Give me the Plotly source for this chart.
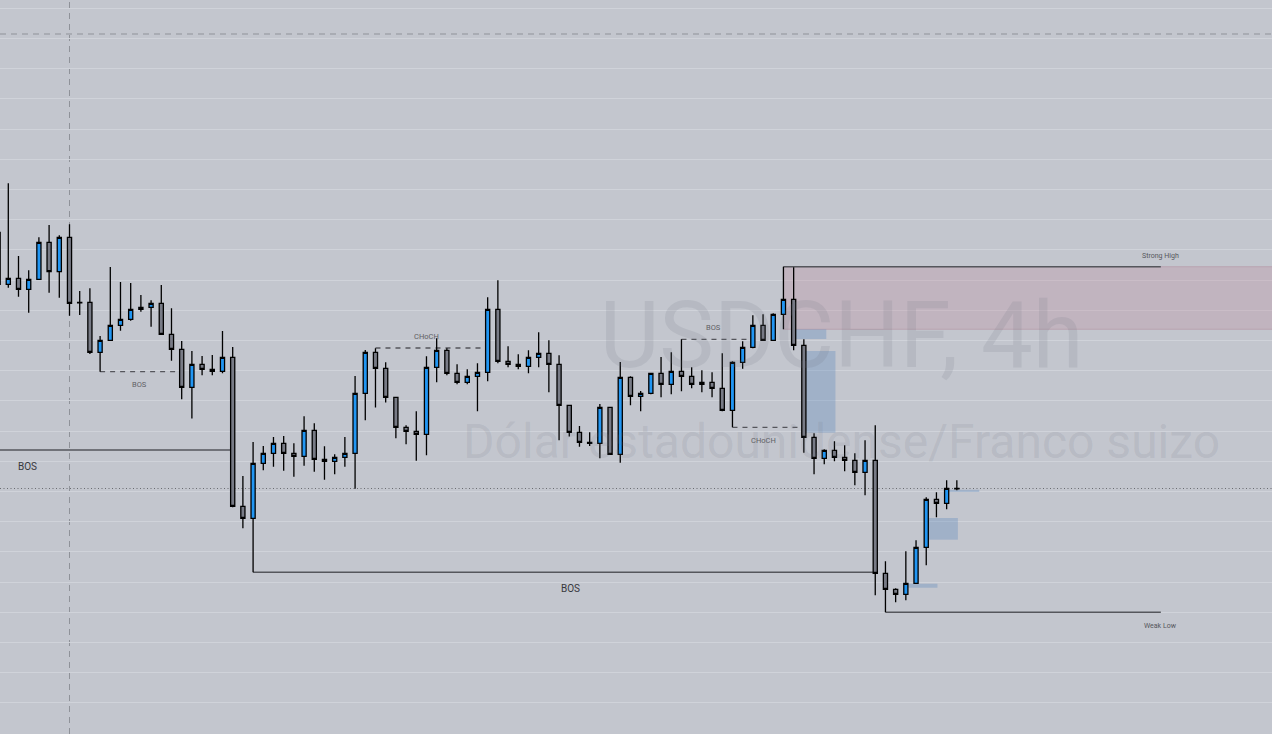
import plotly.graph_objects as go

# ---------------- data (price in chart points, bar index on x) ----------------
bar_index = list(range(-1, 94))

open_ = [501.7, 449.7, 455.7, 444.7, 454.7, 491.7, 462.3, 496.7, 431.7, 431.7,
         381.7, 393.7, 408.7, 414.7, 424.7, 426.7, 430.7, 399.7, 384.7, 346.7,
         369.7, 364.7, 362.7, 376.7, 227.7, 215.7, 270.7, 280.7, 290.7, 280.7,
         277.7, 303.7, 274.7, 272.7, 276.7, 280.7, 340.7, 381.7, 365.7, 336.7,
         306.7, 302.7, 299.7, 366.7, 383.7, 360.7, 351.7, 357.7, 361.7, 424.7,
         372.7, 369.7, 367.7, 376.7, 380.7, 369.7, 328.7, 301.7, 291.7, 290.7,
         326.7, 279.7, 356.7, 337.7, 340.7, 360.7, 349.7, 362.7, 357.7, 349.7,
         351.7, 345.7, 323.7, 371.7, 386.7, 408.7, 393.7, 419.7, 434.7, 388.7,
         296.7, 275.7, 283.7, 276.7, 273.7, 261.7, 273.7, 160.7, 144.7, 139.7,
         150.7, 186.7, 234.7, 230.7, 245.2]
high = [506.0, 550.7, 478.0, 463.7, 496.7, 509.0, 498.7, 509.7, 443.0, 445.7,
        398.0, 467.0, 452.0, 451.0, 439.0, 433.7, 449.0, 425.7, 393.0, 383.0,
        378.0, 379.0, 403.0, 387.0, 258.0, 292.0, 288.0, 297.0, 298.0, 290.7,
        317.7, 310.7, 287.7, 279.7, 297.0, 358.0, 384.0, 385.7, 371.7, 336.7,
        308.7, 322.7, 377.7, 395.7, 385.7, 369.7, 364.7, 370.7, 436.7, 453.7,
        387.7, 379.7, 383.7, 401.7, 393.7, 378.7, 328.7, 308.0, 301.7, 330.0,
        326.7, 372.0, 357.7, 343.0, 360.7, 377.0, 381.7, 394.7, 366.7, 363.7,
        361.7, 380.7, 372.7, 392.7, 418.7, 419.7, 420.7, 467.3, 466.7, 394.7,
        300.7, 284.7, 292.7, 288.7, 280.7, 293.7, 308.7, 172.7, 145.7, 182.7,
        193.7, 236.7, 241.7, 253.7, 253.7]
low = [442.0, 446.3, 437.3, 421.3, 454.7, 441.3, 436.3, 418.3, 419.0, 380.0,
       362.3, 393.7, 403.3, 413.3, 422.3, 407.3, 399.7, 373.3, 334.7, 315.5,
       358.7, 358.7, 360.7, 226.7, 205.7, 161.7, 263.7, 267.3, 263.3, 257.3,
       268.3, 262.3, 254.3, 259.7, 267.3, 245.3, 313.7, 326.5, 331.5, 295.7,
       289.7, 273.3, 278.7, 351.7, 358.7, 349.7, 349.7, 322.7, 352.7, 370.7,
       366.7, 364.7, 360.7, 366.7, 341.7, 293.7, 297.5, 287.3, 288.0, 275.7,
       279.7, 271.3, 328.7, 322.7, 339.7, 336.7, 339.7, 342.7, 345.7, 341.7,
       336.7, 322.7, 306.7, 365.3, 385.7, 393.7, 393.7, 404.7, 383.7, 281.3,
       259.7, 269.7, 272.7, 262.7, 248.7, 238.7, 138.7, 121.7, 131.7, 133.7,
       150.7, 168.7, 216.7, 224.7, 243.7]
close = [449.7, 455.7, 444.7, 454.7, 491.7, 462.3, 496.7, 430.7, 431.1, 381.7,
         393.7, 408.7, 414.7, 424.7, 426.7, 430.7, 399.7, 384.7, 346.7, 369.7,
         364.7, 362.7, 376.7, 227.7, 215.7, 270.7, 280.7, 290.7, 280.7, 277.7,
         303.7, 274.7, 272.7, 276.7, 280.7, 340.7, 381.7, 365.7, 336.7, 306.7,
         302.7, 299.7, 366.7, 383.7, 360.7, 351.7, 357.7, 361.7, 424.7, 372.7,
         369.7, 367.7, 376.7, 380.7, 369.7, 328.7, 301.7, 291.7, 290.7, 326.7,
         279.7, 356.7, 337.7, 340.7, 360.7, 349.7, 362.7, 357.7, 349.7, 351.7,
         345.7, 323.7, 371.7, 386.7, 408.7, 393.7, 419.7, 434.7, 388.7, 296.7,
         275.7, 283.7, 276.7, 273.7, 261.7, 273.7, 160.7, 144.7, 139.7, 150.7,
         186.7, 234.7, 230.7, 245.7, 245.7]

# market-structure levels: (start bar, end bar, price, style, label, label side, font size, label bar)
structure = [
    (-18, 22, 284.0, "solid", "BOS", "below", 10, 1.9),
    (9, 17, 362.3, "dash", "BOS", "below", 7.5, 12.9),
    (36, 47, 386.0, "dash", "CHoCH", "above", 7.5, 41.0),
    (66, 73, 394.7, "dash", "BOS", "above", 7.5, 69.1),
    (71, 78, 306.7, "dash", "CHoCH", "below", 7.5, 74.0),
    (24, 85, 161.7, "solid", "BOS", "below", 10, 55.1),
]
strong_high = (76, 113, 467.3)
weak_low = (86, 113, 121.7)
supply_zone = (76, 404.7, 467.3)
# fair value gaps: (start bar, end bar, bottom, top)
fvg_zones = [(77, 80.2, 395.0, 404.7), (78, 81.1, 301.3, 383.0),
             (90, 93.1, 194.3, 216.0), (88, 91.1, 146.3, 150.3),
             (92, 95.2, 242.0, 244.3)]
crosshair_bar, crosshair_price = 6, 700.0
symbol_title = "USDCHF, 4h"
symbol_desc = "Dólar estadounidense/Franco suizo"

# ---------------- figure ----------------
BG = "rgb(195,198,206)"
W, H = 1272, 734
X0 = -0.814
X1 = 123.9

fig = go.Figure()

# watermark (behind candles)
fig.add_trace(go.Scatter(
    x=[81.7], y=[390], mode="text", text=[symbol_title],
    textfont=dict(family="Roboto", size=92, color="rgba(110,115,128,0.15)"),
    hoverinfo="skip", showlegend=False))
fig.add_trace(go.Scatter(
    x=[81.7], y=[288], mode="text", text=[symbol_desc],
    textfont=dict(family="Roboto", size=48, color="rgba(110,115,128,0.15)"),
    hoverinfo="skip", showlegend=False))

fig.add_trace(go.Candlestick(
    x=bar_index, open=open_, high=high, low=low, close=close,
    increasing=dict(fillcolor="#2196F3", line=dict(color="#000000", width=1.3)),
    decreasing=dict(fillcolor="#787B86", line=dict(color="#000000", width=1.3)),
    whiskerwidth=0, hoverinfo="skip", showlegend=False))

shapes = []
annotations = []

# crosshair
shapes.append(dict(type="line", xref="x", yref="paper", x0=crosshair_bar, x1=crosshair_bar,
                   y0=0, y1=1, line=dict(color="rgb(143,146,153)", width=1, dash="6px,5px"),
                   layer="between"))
shapes.append(dict(type="line", xref="paper", yref="y", x0=0, x1=1,
                   y0=crosshair_price, y1=crosshair_price,
                   line=dict(color="rgb(143,146,153)", width=1, dash="6px,5px"),
                   layer="between"))
# last price dotted line
shapes.append(dict(type="line", xref="paper", yref="y", x0=0, x1=1,
                   y0=close[-1] - 0.2, y1=close[-1] - 0.2,
                   line=dict(color="rgb(105,107,112)", width=1, dash="1px,2.5px"),
                   layer="between"))

# supply zone
shapes.append(dict(type="rect", xref="x", yref="y", x0=supply_zone[0], x1=X1 + 2,
                   y0=supply_zone[1], y1=supply_zone[2],
                   fillcolor="rgba(190,150,165,0.36)",
                   line=dict(color="rgba(175,135,150,0.45)", width=1), layer="between"))

# FVG zones
for x0, x1, lo, hi in fvg_zones:
    shapes.append(dict(type="rect", xref="x", yref="y", x0=x0, x1=x1, y0=lo, y1=hi,
                       fillcolor="rgba(100,140,190,0.36)", line=dict(width=0),
                       layer="between"))

# structure lines
for x0, x1, lvl, style, label, side, fs, lx in structure:
    if style == "solid":
        ln = dict(color="rgb(85,86,92)", width=1.6)
    else:
        ln = dict(color="rgb(85,86,92)", width=1.3, dash="5px,5px")
    shapes.append(dict(type="line", xref="x", yref="y", x0=x0, x1=x1, y0=lvl, y1=lvl,
                       line=ln, layer="between"))
    shift = -16 if (side == "below" and style == "solid") else (-13 if side == "below" else 12)
    annotations.append(dict(x=lx, y=lvl, text=label, showarrow=False,
                            xanchor="center", yanchor="middle", yshift=shift,
                            font=dict(family="Roboto", size=fs,
                                      color="rgb(55,56,60)" if style == "solid" else "rgb(95,96,100)")))

# strong high / weak low
for (x0, x1, lvl), label, shift in [(strong_high, "Strong High", 11), (weak_low, "Weak Low", -14)]:
    shapes.append(dict(type="line", xref="x", yref="y", x0=x0, x1=x1, y0=lvl, y1=lvl,
                       line=dict(color="rgb(85,86,92)", width=1.6), layer="between"))
    annotations.append(dict(x=x1, y=lvl, text=label, showarrow=False,
                            xanchor="center", yanchor="middle", yshift=shift,
                            font=dict(family="Roboto", size=7, color="rgb(85,86,92)")))

fig.update_layout(
    width=W, height=H, margin=dict(l=0, r=0, t=0, b=0),
    paper_bgcolor=BG, plot_bgcolor=BG,
    shapes=shapes, annotations=annotations,
    boxgap=0.42, hovermode=False, showlegend=False,
    xaxis=dict(range=[X0, X1], visible=False, rangeslider=dict(visible=False),
               fixedrange=True),
    yaxis=dict(range=[0, 734], showticklabels=False, ticks="", showgrid=True,
               gridcolor="rgb(208,211,218)", gridwidth=1, tick0=0.9, dtick=30.2,
               zeroline=False, showline=False, fixedrange=True),
)

fig.write_html(
    "out.html",
    config={"displayModeBar": False},
    post_script="document.body.style.margin='0';document.body.style.overflow='hidden';"
                "document.body.style.background='" + BG + "';",
)
